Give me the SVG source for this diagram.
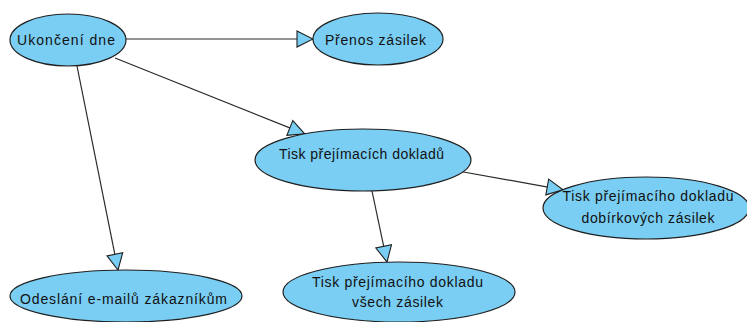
<svg xmlns="http://www.w3.org/2000/svg" width="747" height="322" viewBox="0 0 747 322">
  <style>
    .node ellipse { fill: #7acef3; stroke: #1f1f1f; stroke-width: 1.2; }
    .node text { font-family: "Liberation Sans", Arial, sans-serif; font-size: 14px; fill: #111; text-anchor: middle; }
    .edge { stroke: #2a2a2a; stroke-width: 1.2; fill: none; marker-end: url(#tri); }
  </style>
  <defs>
    <marker id="tri" viewBox="-1 -1 18 18" markerWidth="18" markerHeight="18" refX="16" refY="8" orient="auto" markerUnits="userSpaceOnUse">
      <path d="M0,0 L16,8 L0,16 Z" fill="#7acef3" stroke="#1f1f1f" stroke-width="1.1" stroke-linejoin="miter"/>
    </marker>
  </defs>
  <rect width="747" height="322" fill="#ffffff"/>

  <g id="connectors">
    <line class="edge" x1="126" y1="39" x2="313" y2="39"/>
    <line class="edge" x1="115" y1="58" x2="304.7" y2="133.9"/>
    <line class="edge" x1="77" y1="66" x2="118" y2="270"/>
    <line class="edge" x1="458" y1="171" x2="563" y2="189.8"/>
    <line class="edge" x1="372" y1="191" x2="387" y2="262"/>
  </g>

  <g id="ukonceni-dne" class="node">
    <ellipse cx="68" cy="40" rx="58" ry="26"/>
    <text x="66" y="45" textLength="98" lengthAdjust="spacing">Ukončení dne</text>
  </g>

  <g id="prenos-zasilek" class="node">
    <ellipse cx="378" cy="39" rx="65" ry="26"/>
    <text x="375.5" y="45" textLength="101" lengthAdjust="spacing">Přenos zásilek</text>
  </g>

  <g id="tisk-prejimacich-dokladu" class="node">
    <ellipse cx="363" cy="160" rx="108" ry="31"/>
    <text x="361.5" y="159" textLength="165" lengthAdjust="spacing">Tisk přejímacích dokladů</text>
  </g>

  <g id="tisk-dobirkovych" class="node">
    <ellipse cx="646" cy="208" rx="103" ry="31"/>
    <text x="648" y="201" textLength="171" lengthAdjust="spacing">Tisk přejímacího dokladu</text>
    <text x="648" y="223" textLength="133" lengthAdjust="spacing">dobírkových zásilek</text>
  </g>

  <g id="tisk-vsech" class="node">
    <ellipse cx="399" cy="292" rx="116" ry="30"/>
    <text x="397.5" y="287" textLength="171" lengthAdjust="spacing">Tisk přejímacího dokladu</text>
    <text x="397.5" y="307" textLength="91" lengthAdjust="spacing">všech zásilek</text>
  </g>

  <g id="odeslani-emailu" class="node">
    <ellipse cx="126" cy="296" rx="116" ry="26"/>
    <text x="123.5" y="304" textLength="207" lengthAdjust="spacing">Odeslání e-mailů zákazníkům</text>
  </g>
</svg>
